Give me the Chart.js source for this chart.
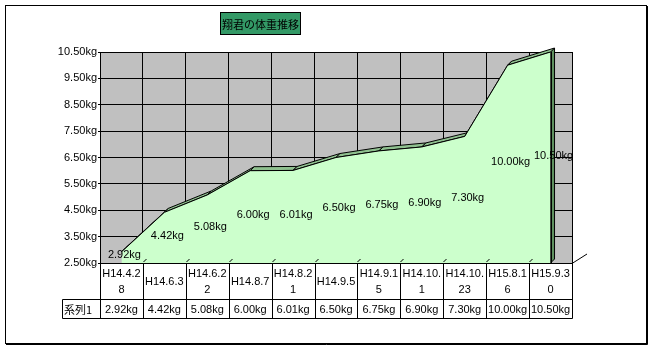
<!DOCTYPE html>
<html>
<head>
<meta charset="utf-8">
<script src="https://cdn.jsdelivr.net/npm/chart.js@4.4.1/dist/chart.umd.min.js"></script>
<style>
  html, body { margin: 0; padding: 0; background: #fff; }
  canvas { display: block; }
</style>
</head>
<body>
<canvas id="c" width="655" height="350"></canvas>
<script>
// 翔君の体重推移 — weight record
const chartTitle = '翔君の体重推移';
const seriesName = '系列1';
const unit = 'kg';
const categories = ['H14.4.28', 'H14.6.3', 'H14.6.22', 'H14.8.7', 'H14.8.21', 'H14.9.5',
                    'H14.9.15', 'H14.10.1', 'H14.10.23', 'H15.8.16', 'H15.9.30'];
const weights = [2.92, 4.42, 5.08, 6.00, 6.01, 6.50, 6.75, 6.90, 7.30, 10.00, 10.50];
const yTickValues = [2.5, 3.5, 4.5, 5.5, 6.5, 7.5, 8.5, 9.5, 10.5];

const LATIN = '"Liberation Sans", Arial, "Noto Sans CJK JP", sans-serif';
const CJK = '"Noto Sans CJK JP", "Liberation Sans", sans-serif';
const fmt = v => v.toFixed(2) + unit;

const style = {
  wall: '#C0C0C0',
  face: '#CCFFCC',
  top: '#8FC08F',
  side: '#5F915F',
  titleFill: '#339966',
  depth: { dx: 4, dy: -4 },
  rowCat: 36,
  rowVal: 19,
  keyLeft: 62
};

// wrap a label character by character so it fits a table column
function wrapLabel(ctx, text, maxW) {
  const lines = [];
  let cur = '';
  for (const ch of text) {
    if (cur && ctx.measureText(cur + ch).width > maxW) { lines.push(cur); cur = ch; }
    else cur += ch;
  }
  lines.push(cur);
  return lines;
}

const backdrop = {
  id: 'backdrop',
  beforeDraw(chart) {
    const { ctx, chartArea: a } = chart;
    ctx.save();
    ctx.fillStyle = '#fff';
    ctx.fillRect(0, 0, chart.width, chart.height);
    ctx.fillStyle = style.wall;
    ctx.fillRect(a.left, a.top, a.right - a.left, a.bottom - a.top);
    ctx.restore();
  }
};

// 3D look: top strip along the series edge and the right-hand side face
const depthFaces = {
  id: 'depthFaces',
  beforeDatasetsDraw(chart) {
    const { ctx } = chart;
    const pts = chart.getDatasetMeta(0).data;
    const yS = chart.scales.y;
    const base = yS.getPixelForValue(yS.min);
    const { dx, dy } = style.depth;
    ctx.save();
    ctx.lineWidth = 1;
    ctx.strokeStyle = '#000';
    const last = pts[pts.length - 1];
    ctx.beginPath();
    ctx.moveTo(last.x, last.y);
    ctx.lineTo(last.x + dx, last.y + dy);
    ctx.lineTo(last.x + dx, base + dy);
    ctx.lineTo(last.x, base);
    ctx.closePath();
    ctx.fillStyle = style.side;
    ctx.fill();
    ctx.stroke();
    for (let i = 0; i < pts.length - 1; i++) {
      const p = pts[i], q = pts[i + 1];
      ctx.beginPath();
      ctx.moveTo(p.x, p.y);
      ctx.lineTo(q.x, q.y);
      ctx.lineTo(q.x + dx, q.y + dy);
      ctx.lineTo(p.x + dx, p.y + dy);
      ctx.closePath();
      ctx.fillStyle = style.top;
      ctx.fill();
      ctx.stroke();
    }
    ctx.restore();
  },
  afterDatasetsDraw(chart) {
    const { ctx } = chart;
    const pts = chart.getDatasetMeta(0).data;
    const yS = chart.scales.y;
    const last = pts[pts.length - 1];
    const base = yS.getPixelForValue(yS.min);
    ctx.save();
    ctx.strokeStyle = '#000';
    ctx.lineWidth = 1;
    ctx.beginPath();
    ctx.moveTo(Math.round(last.x) + 0.5, last.y);
    ctx.lineTo(Math.round(last.x) + 0.5, base);
    ctx.stroke();
    // value labels, halfway between the edge and the floor
    ctx.fillStyle = '#000';
    ctx.font = '11px ' + LATIN;
    ctx.textAlign = 'center';
    ctx.textBaseline = 'middle';
    weights.forEach((v, i) => {
      const y = yS.getPixelForValue((v + yS.min) / 2) - 2;
      ctx.fillText(fmt(v), pts[i].x + 3, y);
    });
    ctx.restore();
  }
};

// data table under the plot, title and frame
const tableAndTitle = {
  id: 'tableAndTitle',
  afterDraw(chart) {
    const { ctx, chartArea: a } = chart;
    const xS = chart.scales.x;
    const n = categories.length;
    const w = (xS.right - xS.left) / n;
    const top = a.bottom;
    const mid = top + style.rowCat;
    const bot = mid + style.rowVal;
    const px = v => Math.round(v) + 0.5;
    ctx.save();
    ctx.strokeStyle = '#000';
    ctx.lineWidth = 1;

    // floor edge and small depth ticks
    ctx.beginPath();
    ctx.moveTo(a.right, px(top));
    ctx.lineTo(a.right + 15, top - 9);
    for (let i = 1; i < n; i++) {
      const b = px(xS.left + i * w);
      ctx.moveTo(b, top - 1);
      ctx.lineTo(b + 3, top - 4);
    }
    ctx.stroke();

    ctx.beginPath();
    ctx.moveTo(px(xS.left), px(top));
    ctx.lineTo(px(xS.right), px(top));
    ctx.moveTo(px(style.keyLeft), px(mid));
    ctx.lineTo(px(xS.right), px(mid));
    ctx.moveTo(px(style.keyLeft), px(bot));
    ctx.lineTo(px(xS.right), px(bot));
    ctx.moveTo(px(style.keyLeft), px(mid));
    ctx.lineTo(px(style.keyLeft), px(bot));
    for (let i = 0; i <= n; i++) {
      const b = px(xS.left + i * w);
      ctx.moveTo(b, px(top));
      ctx.lineTo(b, px(bot));
    }
    ctx.stroke();

    ctx.fillStyle = '#000';
    ctx.font = '11px ' + LATIN;
    ctx.textAlign = 'center';
    ctx.textBaseline = 'middle';
    categories.forEach((c, i) => {
      const cx = xS.left + (i + 0.5) * w;
      const lines = wrapLabel(ctx, c, w - 2);
      const lh = 16;
      const y0 = (top + mid) / 2 - (lines.length - 1) * lh / 2 + 1;
      lines.forEach((ln, k) => ctx.fillText(ln, cx, y0 + k * lh));
      ctx.fillText(fmt(weights[i]), cx, (mid + bot) / 2 + 1);
    });
    ctx.textAlign = 'left';
    ctx.font = '11px ' + CJK;
    ctx.fillText(seriesName, style.keyLeft + 2, (mid + bot) / 2 + 1);

    // title box
    ctx.font = '11px ' + CJK;
    const tw = ctx.measureText(chartTitle).width;
    const bw = Math.round(tw + 4), bh = 23;
    const bx = Math.round(260.5 - bw / 2), by = 12;
    ctx.fillStyle = style.titleFill;
    ctx.fillRect(bx, by, bw, bh);
    ctx.strokeRect(bx + 0.5, by + 0.5, bw - 1, bh - 1);
    ctx.fillStyle = '#000';
    ctx.textAlign = 'center';
    ctx.fillText(chartTitle, bx + bw / 2, by + bh / 2 + 1);

    // outer frame
    ctx.strokeRect(5.5, 5.5, 641, 338);
    ctx.beginPath();
    ctx.moveTo(647.5, 6);
    ctx.lineTo(647.5, 344.5);
    ctx.lineTo(6, 344.5);
    ctx.stroke();
    ctx.restore();
  }
};

new Chart(document.getElementById('c'), {
  type: 'line',
  data: {
    labels: categories,
    datasets: [{
      label: seriesName,
      data: weights,
      fill: 'start',
      backgroundColor: style.face,
      borderColor: '#000',
      borderWidth: 1,
      pointRadius: 0,
      tension: 0
    }]
  },
  options: {
    responsive: false,
    animation: false,
    devicePixelRatio: 1,
    layout: { padding: { left: 0, top: 52, right: 83, bottom: 0 } },
    plugins: {
      legend: { display: false },
      title: { display: false },
      tooltip: { enabled: false }
    },
    scales: {
      x: {
        type: 'category',
        offset: true,
        grid: { offset: true, color: '#000', lineWidth: 1, drawTicks: false },
        border: { color: '#000' },
        ticks: { display: false },
        afterFit(s) { s.height = 87; }
      },
      y: {
        min: 2.5,
        max: 10.5,
        afterBuildTicks(s) { s.ticks = yTickValues.map(v => ({ value: v })); },
        grid: { color: '#000', lineWidth: 1, tickLength: 2 },
        border: { color: '#000' },
        ticks: {
          color: '#000',
          padding: 1,
          font: { family: LATIN, size: 11 },
          callback: v => fmt(v)
        },
        afterFit(s) { s.width = 100; }
      }
    }
  },
  plugins: [backdrop, depthFaces, tableAndTitle]
});
</script>
</body>
</html>
